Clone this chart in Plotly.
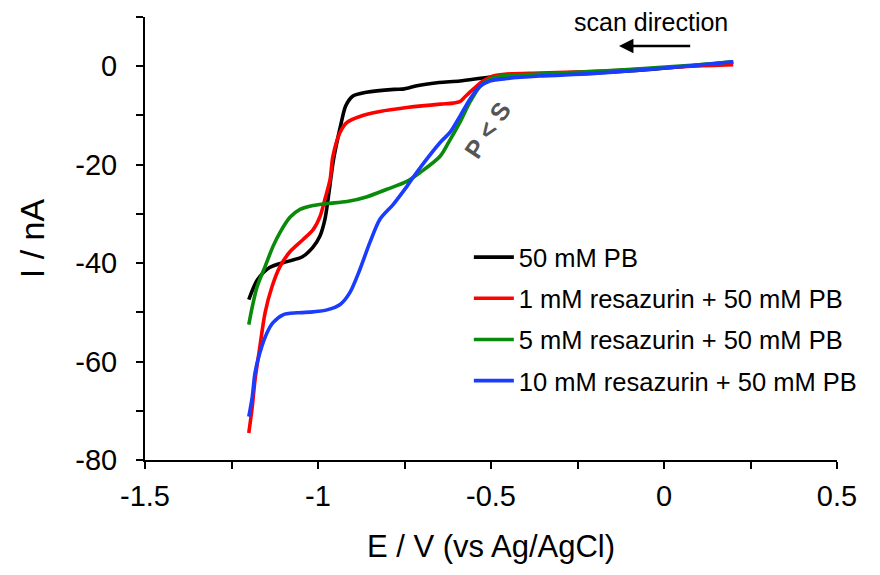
import plotly.graph_objects as go

# ---- data ----
names = ["50 mM PB", "1 mM resazurin + 50 mM PB",
         "5 mM resazurin + 50 mM PB", "10 mM resazurin + 50 mM PB"]
colors = ["#000000", "#ff0000", "#0a8a0a", "#1a3cff"]

black_x = [-1.2, -1.175, -1.14, -1.09, -1.045, -1.015, -0.995, -0.98, -0.97, -0.955,
           -0.935, -0.92, -0.9, -0.86, -0.78, -0.75, -0.71, -0.65, -0.59, -0.5,
           -0.45, -0.36, -0.21, -0.07, 0.08, 0.2]
black_y = [-47.4, -43.4, -40.9, -39.7, -38.7, -36.8, -34.6, -31.1, -26.5, -18.9,
           -12.2, -8.1, -6.1, -5.3, -4.7, -4.6, -3.9, -3.3, -3.0, -2.2,
           -2.0, -1.8, -1.4, -0.8, 0.1, 0.8]

red_x = [-1.2, -1.19, -1.182, -1.168, -1.153, -1.133, -1.11, -1.081, -1.043, -1.014,
         -0.994, -0.98, -0.965, -0.957, -0.936, -0.916, -0.879, -0.821, -0.743, -0.647,
         -0.61, -0.59, -0.575, -0.552, -0.523, -0.494, -0.454, -0.36, -0.21, -0.07,
         0.08, 0.2]
red_y = [-74.5, -69.2, -63.7, -57.0, -50.1, -44.8, -40.7, -37.7, -35.2, -33.2,
         -30.5, -27.0, -23.0, -18.3, -13.4, -11.4, -10.2, -9.2, -8.4, -7.7,
         -7.5, -7.2, -6.2, -4.7, -3.0, -2.0, -1.6, -1.4, -1.1, -0.6,
         0.0, 0.3]

green_x = [-1.2, -1.19, -1.176, -1.153, -1.13, -1.11, -1.081, -1.052, -1.014, -0.974,
           -0.916, -0.858, -0.801, -0.743, -0.705, -0.647, -0.618, -0.59, -0.561, -0.532,
           -0.503, -0.474, -0.36, -0.21, -0.07, 0.08, 0.2]
green_y = [-52.5, -48.9, -44.8, -40.7, -36.6, -33.8, -30.7, -29.1, -28.3, -27.9,
           -27.5, -26.5, -25.0, -23.4, -21.6, -18.3, -14.9, -11.4, -7.3, -4.1,
           -2.6, -2.0, -1.6, -1.1, -0.5, 0.2, 0.9]

blue_x = [-1.2, -1.19, -1.182, -1.168, -1.147, -1.13, -1.101, -1.061, -1.014, -0.974,
          -0.936, -0.908, -0.879, -0.85, -0.821, -0.783, -0.743, -0.714, -0.647, -0.618,
          -0.59, -0.561, -0.532, -0.503, -0.454, -0.36, -0.21, -0.07, 0.08, 0.2]
blue_y = [-71.2, -67.2, -62.3, -58.2, -54.1, -52.1, -50.5, -50.1, -49.9, -49.5,
          -48.4, -46.0, -41.3, -35.8, -31.1, -28.1, -24.4, -21.5, -15.5, -13.4,
          -10.2, -6.7, -4.1, -3.0, -2.5, -2.0, -1.5, -0.8, 0.1, 0.9]

series_x = [black_x, red_x, green_x, blue_x]
series_y = [black_y, red_y, green_y, blue_y]

x_tickvals = [-1.5, -1.0, -0.5, 0.0, 0.5]
x_ticktext = ["-1.5", "-1", "-0.5", "0", "0.5"]
y_tickvals = [0, -20, -40, -60, -80]
y_ticktext = ["0", "-20", "-40", "-60", "-80"]

FONT = "Liberation Sans, Arial, sans-serif"

fig = go.Figure()
for i in range(4):
    fig.add_trace(go.Scatter(
        x=series_x[i], y=series_y[i], mode="lines", name=names[i],
        legendgroup=f"g{i}",
        line=dict(color=colors[i], width=3.6, shape="spline", smoothing=0.8),
    ))

fig.update_layout(
    width=880, height=575,
    margin=dict(l=145, r=43, t=17, b=115),
    paper_bgcolor="white", plot_bgcolor="white",
    font=dict(family=FONT, color="black"),
    showlegend=True,
    legend=dict(
        x=0.468, y=0.51, xanchor="left", yanchor="top",
        font=dict(size=25.5, family=FONT, color="black"),
        itemwidth=40, tracegroupgap=5, borderwidth=0,
        bgcolor="rgba(0,0,0,0)",
    ),
    xaxis=dict(
        range=[-1.5, 0.5], showgrid=False, zeroline=False,
        showline=True, linecolor="black", linewidth=2,
        ticks="outside", ticklen=7, tickwidth=2, tickcolor="black",
        tickvals=x_tickvals, ticktext=x_ticktext,
        tickfont=dict(size=29, family=FONT),
        ticklabelstandoff=2,
        minor=dict(tickvals=[-1.25, -0.75, -0.25, 0.25], ticks="outside",
                   ticklen=7, tickwidth=2, tickcolor="black"),
        title=dict(text="E / V (vs Ag/AgCl)", font=dict(size=31, family=FONT),
                   standoff=25),
    ),
    yaxis=dict(
        range=[-80, 10], showgrid=False, zeroline=False,
        showline=True, linecolor="black", linewidth=2,
        ticks="outside", ticklen=7, tickwidth=2, tickcolor="black",
        tickvals=y_tickvals, ticktext=y_ticktext,
        tickfont=dict(size=29, family=FONT),
        ticklabelstandoff=13,
        minor=dict(tickvals=[10, -10, -30, -50, -70], ticks="outside",
                   ticklen=7, tickwidth=2, tickcolor="black"),
        title=dict(text="I / nA", font=dict(size=34, family=FONT), standoff=20),
    ),
)

# scan direction label and arrow
fig.add_annotation(x=-0.266, y=9.0, xref="x", yref="y", text="scan direction",
                   showarrow=False, xanchor="left", yanchor="middle",
                   font=dict(size=25, family=FONT, color="black"))
fig.add_annotation(x=-0.13, y=4.1, xref="x", yref="y", ax=0.08, ay=4.1,
                   axref="x", ayref="y", text="", showarrow=True,
                   arrowhead=2, arrowsize=1.2, arrowwidth=2.4, arrowcolor="black")

# P < S label
fig.add_annotation(x=-0.51, y=-13.0, xref="x", yref="y", text="<b>P < S</b>",
                   showarrow=False, textangle=-56,
                   font=dict(size=25, family=FONT, color="#555555"))

fig.write_html("out.html")
